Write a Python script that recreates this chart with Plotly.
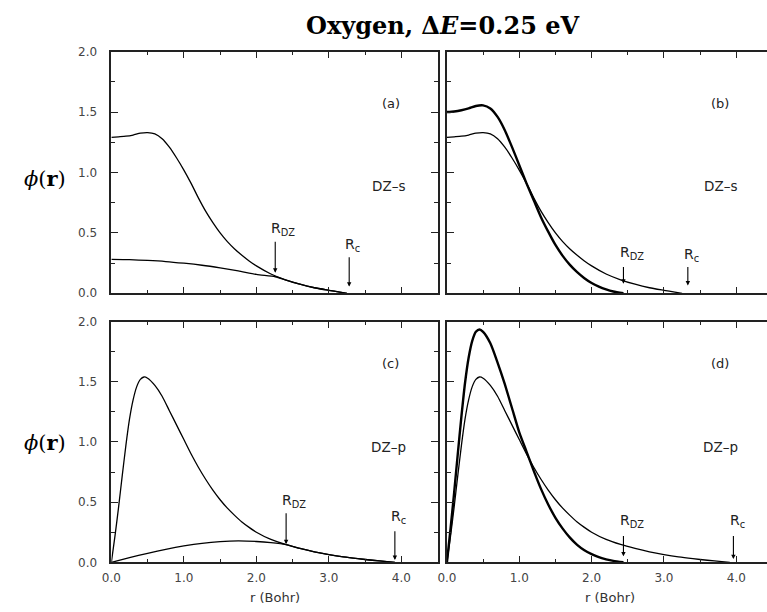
import plotly.graph_objects as go

# ---------------- data ----------------
# s-type first zeta (panels a, b thin)
r_s1 = [0, 0.1, 0.2, 0.3, 0.4, 0.5, 0.6, 0.7, 0.8, 0.9, 1.0, 1.1, 1.2, 1.3, 1.4, 1.5,
        1.6, 1.7, 1.8, 1.9, 2.0, 2.2, 2.4, 2.6, 2.8, 3.0, 3.15, 3.25]
phi_s1 = [1.29, 1.295, 1.30, 1.31, 1.325, 1.33, 1.32, 1.28, 1.21, 1.12, 1.02, 0.91, 0.79,
          0.68, 0.585, 0.50, 0.428, 0.367, 0.315, 0.268, 0.227, 0.16, 0.112, 0.075, 0.046,
          0.025, 0.01, 0.0]
# s-type split function (panel a, small curve)
r_s2 = [0, 0.25, 0.5, 0.75, 1.0, 1.25, 1.5, 1.75, 2.0, 2.26, 2.4, 2.6, 2.8, 3.0, 3.15, 3.25]
phi_s2 = [0.28, 0.278, 0.272, 0.263, 0.249, 0.232, 0.21, 0.185, 0.156, 0.137, 0.112, 0.075,
          0.046, 0.025, 0.01, 0.0]
# s-type second zeta (panel b, thick)
r_s3 = [0, 0.1, 0.2, 0.3, 0.4, 0.5, 0.6, 0.7, 0.8, 0.9, 1.0, 1.1, 1.2, 1.3, 1.4, 1.5, 1.6,
        1.7, 1.8, 1.9, 2.0, 2.1, 2.2, 2.3, 2.44]
phi_s3 = [1.50, 1.505, 1.515, 1.53, 1.55, 1.555, 1.53, 1.46, 1.35, 1.21, 1.06, 0.91, 0.77,
          0.63, 0.51, 0.40, 0.31, 0.235, 0.175, 0.125, 0.085, 0.055, 0.032, 0.015, 0.0]

# p-type first zeta (panels c, d thin)
r_p1 = [0, 0.05, 0.1, 0.15, 0.2, 0.25, 0.3, 0.35, 0.4, 0.45, 0.5, 0.6, 0.7, 0.8, 0.9, 1.0,
        1.1, 1.2, 1.3, 1.4, 1.5, 1.6, 1.7, 1.8, 1.9, 2.0, 2.2, 2.4, 2.6, 2.8, 3.0, 3.2,
        3.4, 3.6, 3.8, 3.91]
phi_p1 = [0, 0.22, 0.46, 0.72, 0.97, 1.19, 1.35, 1.46, 1.52, 1.54, 1.53, 1.47, 1.38, 1.26,
          1.14, 1.02, 0.90, 0.79, 0.69, 0.60, 0.52, 0.45, 0.39, 0.335, 0.29, 0.25, 0.19,
          0.148, 0.115, 0.087, 0.064, 0.045, 0.03, 0.017, 0.006, 0.0]
# p-type split function (panel c, small curve)
r_p2 = [0, 0.25, 0.5, 0.75, 1.0, 1.25, 1.5, 1.75, 2.0, 2.2, 2.41, 2.6, 2.8, 3.0, 3.2, 3.4,
        3.6, 3.8, 3.91]
phi_p2 = [0, 0.038, 0.075, 0.108, 0.136, 0.158, 0.172, 0.178, 0.173, 0.163, 0.146, 0.115,
          0.087, 0.064, 0.045, 0.03, 0.017, 0.006, 0.0]
# p-type second zeta (panel d, thick)
r_p3 = [0, 0.05, 0.1, 0.15, 0.2, 0.25, 0.3, 0.35, 0.4, 0.45, 0.5, 0.6, 0.7, 0.8, 0.9, 1.0,
        1.1, 1.2, 1.3, 1.4, 1.5, 1.6, 1.7, 1.8, 1.9, 2.0, 2.1, 2.2, 2.3, 2.44]
phi_p3 = [0, 0.28, 0.58, 0.90, 1.21, 1.49, 1.70, 1.84, 1.915, 1.935, 1.915, 1.82, 1.66, 1.48,
          1.28, 1.08, 0.92, 0.76, 0.61, 0.48, 0.37, 0.28, 0.205, 0.145, 0.10, 0.068, 0.042,
          0.025, 0.012, 0.0]

panel_tags = ["(a)", "(b)", "(c)", "(d)"]
basis_tags = ["DZ\u2013s", "DZ\u2013s", "DZ\u2013p", "DZ\u2013p"]
arrow_r = [2.26, 3.28, 2.44, 3.33, 2.41, 3.91, 2.44, 3.96]
arrow_tip = [0.17, 0.056, 0.08, 0.065, 0.15, 0.02, 0.05, 0.027]
arrow_tail = [0.44, 0.31, 0.23, 0.23, 0.42, 0.27, 0.23, 0.23]
arrow_lab_y = [0.53, 0.40, 0.33, 0.32, 0.51, 0.38, 0.34, 0.34]
arrow_lab = ["R<sub>DZ</sub>", "R<sub>c</sub>"] * 4
arrow_panel = [0, 0, 1, 1, 2, 2, 3, 3]

y_ticks = [0, 0.5, 1.0, 1.5, 2.0]
x_ticks = [0, 1, 2, 3, 4]

# ---------------- figure ----------------
W, H = 767, 612
fig = go.Figure()

axn = [("x", "y"), ("x2", "y2"), ("x3", "y3"), ("x4", "y4")]

def add_line(p, xs, ys, width):
    fig.add_trace(go.Scatter(x=xs, y=ys, xaxis=axn[p][0], yaxis=axn[p][1], mode="lines",
                             line=dict(color="black", width=width, shape="spline",
                                       smoothing=0.6),
                             showlegend=False, hoverinfo="skip"))

add_line(0, r_s1, phi_s1, 1.3)
add_line(0, r_s2, phi_s2, 1.3)
add_line(1, r_s1, phi_s1, 1.3)
add_line(1, r_s3, phi_s3, 2.4)
add_line(2, r_p1, phi_p1, 1.3)
add_line(2, r_p2, phi_p2, 1.3)
add_line(3, r_p1, phi_p1, 1.3)
add_line(3, r_p3, phi_p3, 2.4)

xl = (102.7 / W, 433.3 / W)
xr = (442.7 / W, 1.0)
yt = ((H - 293.0) / H, (H - 45.7) / H)
yb = ((H - 568.3) / H, (H - 322.0) / H)
xr_max = (767 - 442.7) / 73.3

tickfont = dict(family="DejaVu Sans", size=12, color="#444")
common = dict(showgrid=False, zeroline=False, showline=True, linecolor="#222",
              linewidth=1.5, ticks="inside", tickwidth=1.2, tickcolor="#222",
              tickfont=tickfont, fixedrange=True)

def xaxis(domain, rng, anchor, labels):
    return dict(common, domain=list(domain), range=rng, anchor=anchor,
                tickvals=x_ticks, ticktext=[f"{v:.1f}" for v in x_ticks],
                showticklabels=labels, ticklen=7, mirror="ticks",
                minor=dict(ticks="inside", tickvals=[0.5, 1.5, 2.5, 3.5], ticklen=3.5,
                           tickwidth=1.2, tickcolor="#222"),
                ticklabelstandoff=4)

def yaxis(domain, anchor, labels, mirror):
    return dict(common, domain=list(domain), range=[0, 2.0], anchor=anchor,
                tickvals=y_ticks, ticktext=[f"{v:.1f}" for v in y_ticks],
                showticklabels=labels, ticklen=7, mirror=mirror,
                minor=dict(ticks="inside", tickvals=[0.25, 0.75, 1.25, 1.75], ticklen=4,
                           tickwidth=1.2, tickcolor="#222"),
                ticklabelstandoff=10)

fig.update_layout(
    width=W, height=H, margin=dict(l=0, r=0, t=0, b=0),
    paper_bgcolor="white", plot_bgcolor="white",
    xaxis=xaxis(xl, [0, 4.5], "y", False),
    yaxis=yaxis(yt, "x", True, "ticks"),
    xaxis2=xaxis(xr, [0, xr_max], "y2", False),
    yaxis2=yaxis(yt, "x2", False, False),
    xaxis3=xaxis(xl, [0, 4.5], "y3", True),
    yaxis3=yaxis(yb, "x3", True, "ticks"),
    xaxis4=xaxis(xr, [0, xr_max], "y4", True),
    yaxis4=yaxis(yb, "x4", False, False),
)

ann = []
ann.append(dict(text="<b>Oxygen, \u0394<i>E</i>=0.25 eV</b>", xref="paper", yref="paper",
                x=438 / W, y=(H - 19) / H, xanchor="center", yanchor="middle",
                showarrow=False, font=dict(family="DejaVu Serif", size=24, color="black")))
for yc in (176, 446):
    ann.append(dict(text="<i>\u03d5</i>(<b>r</b>)", xref="paper", yref="paper",
                    x=35 / W, y=(H - yc) / H, xanchor="center", yanchor="middle",
                    showarrow=False, font=dict(family="DejaVu Serif", size=21, color="black")))
for dom in (xl, xr):
    ann.append(dict(text="r (Bohr)", xref="paper", yref="paper",
                    x=(dom[0] * W + (268 - 102.7)) / W, y=(H - 604) / H,
                    xanchor="center", yanchor="middle", showarrow=False,
                    font=dict(family="DejaVu Sans", size=13, color="#333")))
tag_pos = [(3.85, 1.57), (3.78, 1.57), (3.85, 1.65), (3.78, 1.65)]
basis_pos = [(3.82, 0.89), (3.78, 0.89), (3.82, 0.96), (3.78, 0.96)]
for p in range(4):
    ann.append(dict(text=panel_tags[p], xref=axn[p][0], yref=axn[p][1],
                    x=tag_pos[p][0], y=tag_pos[p][1], showarrow=False,
                    font=dict(family="DejaVu Sans", size=13, color="#222")))
    ann.append(dict(text=basis_tags[p], xref=axn[p][0], yref=axn[p][1],
                    x=basis_pos[p][0], y=basis_pos[p][1], showarrow=False,
                    font=dict(family="DejaVu Sans", size=13.5, color="#222")))
for i in range(len(arrow_r)):
    p = arrow_panel[i]
    xa, ya = axn[p]
    ann.append(dict(text="", xref=xa, yref=ya, axref=xa, ayref=ya,
                    x=arrow_r[i], y=arrow_tip[i], ax=arrow_r[i], ay=arrow_tail[i],
                    showarrow=True, arrowhead=2, arrowsize=0.8, arrowwidth=1.1,
                    arrowcolor="black", standoff=0, startstandoff=0))
    ann.append(dict(text=arrow_lab[i], xref=xa, yref=ya, x=arrow_r[i] - 0.08,
                    y=arrow_lab_y[i], xanchor="left", yanchor="middle", showarrow=False,
                    font=dict(family="DejaVu Sans", size=14, color="#222")))

fig.update_layout(annotations=ann)
fig.write_html("out.html")
